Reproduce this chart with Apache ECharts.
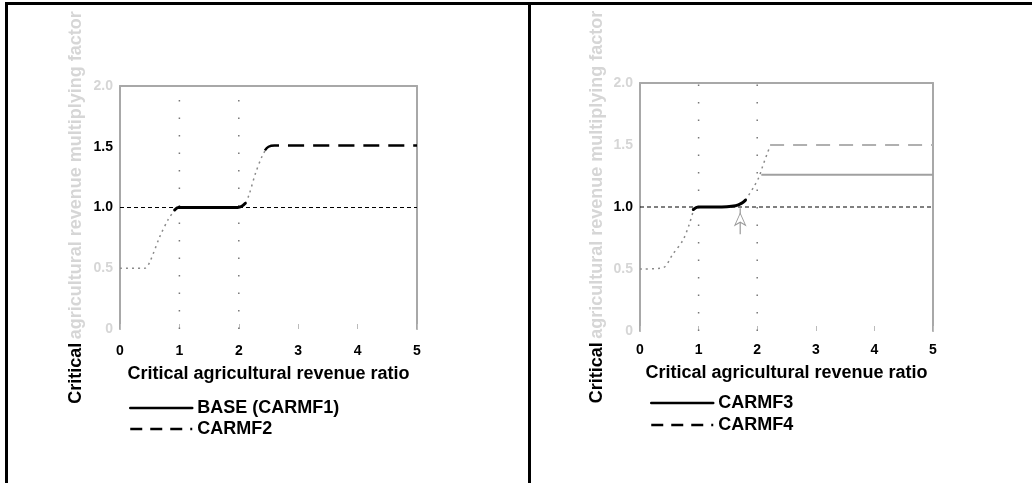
<!DOCTYPE html>
<html>
<head>
<meta charset="utf-8">
<script src="https://cdn.jsdelivr.net/npm/echarts@6/dist/echarts.min.js"></script>
<style>
html,body{margin:0;padding:0;background:#fff;}
#chart{width:1032px;height:483px;}
</style>
</head>
<body>
<div id="chart"></div>
<script>
// ---- data ----
var xTickLabels = ['0', '1', '2', '3', '4', '5'];
var yTickValues = [0, 0.5, 1.0, 1.5, 2.0];
var yTickLabels = ['0', '0.5', '1.0', '1.5', '2.0'];
var leftDarkYLabels = ['1.0', '1.5'];
var rightDarkYLabels = ['1.0'];
var xTitle = 'Critical agricultural revenue ratio';
var yTitleDark = 'Critical';
var yTitleFaded = 'agricultural revenue multiplying factor';

var refLine = [[0, 1.0], [5, 1.0]];
var guideX1 = [[1, 0], [1, 2]];
var guideX2 = [[2, 0], [2, 2]];

// left panel
var baseSolid = [[0.92, 0.98], [0.98, 1.0], [1.5, 1.0], [1.98, 1.0], [2.05, 1.01], [2.11, 1.035]];
var leftRise1 = [[0, 0.5], [0.42, 0.5], [0.5, 0.55], [0.67, 0.76], [0.81, 0.9], [0.92, 0.98]];
var leftRise2 = [[2.11, 1.035], [2.17, 1.1], [2.28, 1.28], [2.39, 1.42], [2.47, 1.49]];
var carmf2 = [[2.44, 1.47], [2.5, 1.5], [2.6, 1.51], [5, 1.51]];

// right panel
var carmf3Solid = [[0.91, 0.98], [0.99, 1.0], [1.3, 1.0], [1.63, 1.01], [1.75, 1.035], [1.8, 1.055]];
var rightRise1 = [[0, 0.5], [0.39, 0.51], [0.56, 0.62], [0.73, 0.73], [0.84, 0.86], [0.91, 0.97]];
var rightRise2 = [[1.8, 1.055], [1.94, 1.16], [2.03, 1.24], [2.08, 1.31], [2.17, 1.43], [2.22, 1.49]];
var carmf3Flat = [[2.07, 1.26], [5, 1.26]];
var carmf4 = [[2.22, 1.5], [5, 1.5]];
var arrowPts = [[1.71, 0.78], [1.71, 0.99]];

var legendLeft = ['BASE (CARMF1)', 'CARMF2'];
var legendRight = ['CARMF3', 'CARMF4'];

// ---- chart ----
var chart = echarts.init(document.getElementById('chart'), null, {renderer: 'canvas'});
var FONT = '"Liberation Sans", Arial, sans-serif';
var FADED = '#d6d6d6';
var AXISGREY = '#a8a8a8';

function yFormatter(dark) {
  return function (v) {
    var i = yTickValues.indexOf(Math.round(v * 10) / 10);
    var lab = i >= 0 ? yTickLabels[i] : '';
    return dark.indexOf(lab) >= 0 ? '{d|' + lab + '}' : '{f|' + lab + '}';
  };
}
function xFormatter(v) {
  var i = Math.round(v);
  return xTickLabels[i] !== undefined ? xTickLabels[i] : '';
}

function makeAxes(gi, dark, xLabelMargin) {
  var bottomX = {
    type: 'value', gridIndex: gi, min: 0, max: 5, interval: 1, position: 'bottom',
    axisLine: {show: false},
    axisTick: {show: true, inside: true, length: 5, lineStyle: {color: '#bbb', width: 1}},
    splitLine: {show: false},
    axisLabel: {formatter: xFormatter, color: '#000', fontFamily: FONT, fontWeight: 'bold', fontSize: 14, margin: xLabelMargin},
    name: xTitle, nameLocation: 'middle', nameGap: 36,
    nameTextStyle: {color: '#000', fontFamily: FONT, fontWeight: 'bold', fontSize: 18}
  };
  var topX = {
    type: 'value', gridIndex: gi, min: 0, max: 5, interval: 1, position: 'top',
    axisLine: {show: true, onZero: false, lineStyle: {color: AXISGREY, width: 2}},
    axisTick: {show: false}, axisLabel: {show: false}, splitLine: {show: false}
  };
  var leftY = {
    type: 'value', gridIndex: gi, min: 0, max: 2, interval: 0.5, position: 'left',
    axisLine: {show: true, onZero: false, lineStyle: {color: AXISGREY, width: 2}},
    axisTick: {show: false}, splitLine: {show: false},
    axisLabel: {
      formatter: yFormatter(dark), margin: 7,
      rich: {
        d: {color: '#000', fontFamily: FONT, fontWeight: 'bold', fontSize: 14},
        f: {color: FADED, fontFamily: FONT, fontWeight: 'bold', fontSize: 14}
      }
    },
    name: '{d|' + yTitleDark + '} {f|' + yTitleFaded + '}',
    nameLocation: 'middle', nameGap: 35, nameRotate: 90,
    nameTextStyle: {
      rich: {
        d: {color: '#000', fontFamily: FONT, fontWeight: 'bold', fontSize: 18},
        f: {color: FADED, fontFamily: FONT, fontWeight: 'bold', fontSize: 18}
      }
    }
  };
  var rightY = {
    type: 'value', gridIndex: gi, min: 0, max: 2, interval: 0.5, position: 'right',
    axisLine: {show: true, onZero: false, lineStyle: {color: AXISGREY, width: 2}},
    axisTick: {show: false}, axisLabel: {show: false}, splitLine: {show: false}
  };
  return {x: [bottomX, topX], y: [leftY, rightY]};
}

var a0 = makeAxes(0, leftDarkYLabels, 15);
var a1 = makeAxes(1, rightDarkYLabels, 12);
a1.x[0].nameGap = 33;
a1.y[0].nameGap = 34;

function ser(name, data, xi, yi, style, extra) {
  var s = {
    type: 'line', name: name, data: data, xAxisIndex: xi, yAxisIndex: yi,
    symbol: 'none', showSymbol: false, silent: true, animation: false,
    itemStyle: {color: style.color},
    lineStyle: style, smooth: false
  };
  if (extra) for (var k in extra) s[k] = extra[k];
  return s;
}

var dotGuide = {color: '#777', width: 1.5, type: [1.5, 16]};
var dotRise = {color: '#8a8a8a', width: 1.5, type: [2, 4]};
var refStyle = {color: '#000', width: 1, type: [4, 3]};

var series = [
  // left panel (x axis 0, y axis 0)
  ser('', guideX1, 0, 0, dotGuide),
  ser('', guideX2, 0, 0, dotGuide),
  ser('', refLine, 0, 0, refStyle),
  ser('', leftRise1, 0, 0, dotRise, {smooth: 0.3}),
  ser('', leftRise2, 0, 0, dotRise, {smooth: 0.3}),
  ser('BASE (CARMF1)', baseSolid, 0, 0, {color: '#000', width: 3, type: 'solid', cap: 'round'}, {smooth: 0.3}),
  ser('CARMF2', carmf2, 0, 0, {color: '#000', width: 2.5, type: [16, 9]}, {smooth: 0.4}),
  // right panel (x axis 2, y axis 2)
  ser('', guideX1, 2, 2, dotGuide),
  ser('', guideX2, 2, 2, dotGuide),
  ser('', refLine, 2, 2, refStyle),
  ser('', rightRise1, 2, 2, dotRise, {smooth: 0.3}),
  ser('', rightRise2, 2, 2, dotRise, {smooth: 0.3}),
  ser('CARMF3', carmf3Solid, 2, 2, {color: '#000', width: 3, type: 'solid', cap: 'round'}, {smooth: 0.3}),
  ser('', carmf3Flat, 2, 2, {color: '#a0a0a0', width: 2, type: 'solid'}),
  ser('CARMF4', carmf4, 2, 2, {color: '#b0b0b0', width: 2, type: [14, 9]}),
  {
    type: 'line', name: '', xAxisIndex: 2, yAxisIndex: 2, silent: true, animation: false,
    lineStyle: {color: '#999', width: 1.2},
    showSymbol: true,
    data: [
      {value: arrowPts[0], symbol: 'none'},
      {value: arrowPts[1], symbol: 'arrow', symbolSize: [8, 12], symbolOffset: [0, 5],
       itemStyle: {color: '#fff', borderColor: '#999', borderWidth: 1}}
    ]
  }
];

var legendText = {color: '#000', fontFamily: FONT, fontWeight: 'bold', fontSize: 18};

var option = {
  backgroundColor: '#fff',
  animation: false,
  grid: [
    {left: 120, top: 86, width: 297, height: 243, containLabel: false},
    {left: 640, top: 83, width: 293, height: 248, containLabel: false}
  ],
  xAxis: a0.x.concat(a1.x),
  yAxis: a0.y.concat(a1.y),
  legend: [
    {
      data: [
        {name: legendLeft[0], lineStyle: {color: '#000', width: 2.5, type: 'solid'}},
        {name: legendLeft[1], lineStyle: {color: '#000', width: 2.5, type: [12, 8]}}
      ],
      orient: 'vertical', left: 124, top: 394,
      itemWidth: 62, itemHeight: 14, itemGap: 3, selectedMode: false,
      itemStyle: {opacity: 0},
      textStyle: legendText
    },
    {
      data: [
        {name: legendRight[0], lineStyle: {color: '#000', width: 2.5, type: 'solid'}},
        {name: legendRight[1], lineStyle: {color: '#000', width: 2.5, type: [12, 8]}}
      ],
      orient: 'vertical', left: 645, top: 389,
      itemWidth: 62, itemHeight: 14, itemGap: 4, selectedMode: false,
      itemStyle: {opacity: 0},
      textStyle: legendText
    }
  ],
  graphic: [
    {type: 'rect', shape: {x: 5, y: 2, width: 1027, height: 3}, style: {fill: '#000'}, silent: true},
    {type: 'rect', shape: {x: 5, y: 2, width: 3, height: 481}, style: {fill: '#000'}, silent: true},
    {type: 'rect', shape: {x: 528, y: 2, width: 3, height: 481}, style: {fill: '#000'}, silent: true}
  ],
  series: series
};
chart.setOption(option);
</script>
</body>
</html>
